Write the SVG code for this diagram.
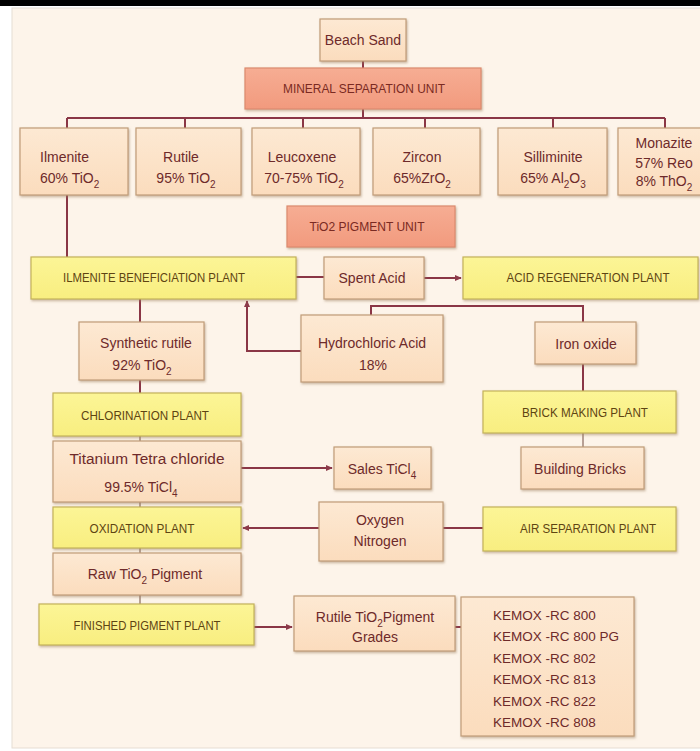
<svg xmlns="http://www.w3.org/2000/svg" width="700" height="751" viewBox="0 0 700 751">
<defs>
<linearGradient id="gp" x1="0" y1="0" x2="0" y2="1"><stop offset="0" stop-color="#fde9d3"/><stop offset="1" stop-color="#fbdcbd"/></linearGradient>
<linearGradient id="gs" x1="0" y1="0" x2="0" y2="1"><stop offset="0" stop-color="#f6ad93"/><stop offset="1" stop-color="#f29a7e"/></linearGradient>
<linearGradient id="gy" x1="0" y1="0" x2="0" y2="1"><stop offset="0" stop-color="#fcf596"/><stop offset="1" stop-color="#f8ee80"/></linearGradient>
<filter id="sh" x="-5%" y="-5%" width="110%" height="120%"><feDropShadow dx="1" dy="1.5" stdDeviation="0.8" flood-color="#9c8060" flood-opacity="0.55"/></filter>
<marker id="ar" viewBox="0 0 8 8" refX="7" refY="4" markerWidth="7" markerHeight="7" markerUnits="userSpaceOnUse" orient="auto"><path d="M0,0.5 L8,4 L0,7.5 Z" fill="#8c3a4a"/></marker>
</defs>
<style>
.pe{fill:url(#gp);stroke:#c09c78;stroke-width:1.2;filter:url(#sh)}
.ye{fill:url(#gy);stroke:#c4b25a;stroke-width:1.2;filter:url(#sh)}
.sa{fill:url(#gs);stroke:#dc8a6e;stroke-width:1.2;filter:url(#sh)}
text{font-family:"Liberation Sans",Arial,sans-serif;font-size:14px;fill:#6e2a2a;text-anchor:middle}
.ty{font-size:12.5px;fill:#5e4412}
.ts{font-size:12.5px;fill:#7a2a22}
.km{font-size:13.5px;text-anchor:start}
.c{stroke:#8a3646;stroke-width:2;fill:none}
.cs{stroke:#a08478;stroke-width:1.5;fill:none}
</style>
<rect x="0" y="0" width="700" height="751" fill="#ffffff"/>
<rect x="0" y="0" width="700" height="6" fill="#000000"/>
<rect x="12" y="8" width="690" height="740" fill="#fdf4ea" stroke="#e6ddd3" stroke-width="1"/>

<g id="connectors">
<path class="c" d="M363,61 V68"/>
<path class="c" d="M363,109 V118 M67,118 H665 M67,118 V128 M185,118 V128 M303,118 V128 M425,118 V128 M553,118 V128 M665,118 V128"/>
<path class="c" d="M67,195 V257"/>
<path class="c" d="M296,277 H324"/>
<path class="c" d="M424,278 H461" marker-end="url(#ar)"/>
<path class="c" d="M371,315 V306 H583 V322"/>
<path class="c" d="M301,351 H247 V301" marker-end="url(#ar)"/>
<path class="c" d="M583,364 V391"/>
<path class="cs" d="M583,433 V447"/>
<path class="c" d="M140,299 V322"/>
<path class="c" d="M140,380 V393"/>
<path class="cs" d="M140,436 V441 M140,502 V507 M140,548 V553 M140,595 V604"/>
<path class="c" d="M241,468 H332" marker-end="url(#ar)"/>
<path class="c" d="M319,528 H243" marker-end="url(#ar)"/>
<path class="c" d="M443,528 H483"/>
<path class="c" d="M254,627 H292" marker-end="url(#ar)"/>
<path class="c" d="M455,627 H461"/>
</g>

<g id="beach-sand"><rect class="pe" x="320" y="19" width="86" height="42"/><text x="363" y="45">Beach Sand</text></g>
<g id="mineral-separation-unit"><rect class="sa" x="245" y="68" width="236" height="41"/><text class="ts" x="364" y="93" textLength="162" lengthAdjust="spacingAndGlyphs">MINERAL SEPARATION UNIT</text></g>

<g id="ilmenite"><rect class="pe" x="20" y="128" width="108" height="67"/><text x="40" y="162" style="text-anchor:start">Ilmenite</text><text x="40" y="183" style="text-anchor:start">60% TiO<tspan font-size="10" dy="5">2</tspan></text></g>
<g id="rutile"><rect class="pe" x="136" y="128" width="105" height="67"/><text x="181" y="162">Rutile</text><text x="186" y="183">95% TiO<tspan font-size="10" dy="5">2</tspan></text></g>
<g id="leucoxene"><rect class="pe" x="252" y="128" width="108" height="67"/><text x="302" y="162">Leucoxene</text><text x="304" y="183">70-75% TiO<tspan font-size="10" dy="5">2</tspan></text></g>
<g id="zircon"><rect class="pe" x="373" y="128" width="107" height="67"/><text x="422" y="162">Zircon</text><text x="422" y="183">65%ZrO<tspan font-size="10" dy="5">2</tspan></text></g>
<g id="silliminite"><rect class="pe" x="498" y="128" width="109" height="67"/><text x="553" y="162">Silliminite</text><text x="553" y="183">65% Al<tspan font-size="10" dy="5">2</tspan><tspan dy="-5">O</tspan><tspan font-size="10" dy="5">3</tspan></text></g>
<g id="monazite"><rect class="pe" x="618" y="128" width="90" height="67"/><text x="664" y="148">Monazite</text><text x="664" y="168">57% Reo</text><text x="664" y="186">8% ThO<tspan font-size="10" dy="5">2</tspan></text></g>

<g id="tio2-pigment-unit"><rect class="sa" x="287" y="206" width="168" height="41"/><text class="ts" x="367" y="231" textLength="115" lengthAdjust="spacingAndGlyphs">TiO2 PIGMENT UNIT</text></g>

<g id="ilmenite-beneficiation-plant"><rect class="ye" x="31" y="257" width="265" height="42"/><text class="ty" x="154" y="282" textLength="182" lengthAdjust="spacingAndGlyphs">ILMENITE BENEFICIATION PLANT</text></g>
<g id="spent-acid"><rect class="pe" x="324" y="257" width="100" height="42"/><text x="372" y="283">Spent Acid</text></g>
<g id="acid-regeneration-plant"><rect class="ye" x="463" y="257" width="235" height="42"/><text class="ty" x="588" y="282" textLength="163" lengthAdjust="spacingAndGlyphs">ACID REGENERATION PLANT</text></g>

<g id="hydrochloric-acid"><rect class="pe" x="301" y="315" width="142" height="67"/><text x="372" y="348">Hydrochloric Acid</text><text x="373" y="370">18%</text></g>
<g id="iron-oxide"><rect class="pe" x="535" y="322" width="101" height="42"/><text x="586" y="349">Iron oxide</text></g>
<g id="synthetic-rutile"><rect class="pe" x="79" y="322" width="125" height="58"/><text x="146" y="348">Synthetic rutile</text><text x="142" y="370">92% TiO<tspan font-size="10" dy="5">2</tspan></text></g>

<g id="brick-making-plant"><rect class="ye" x="483" y="391" width="193" height="42"/><text class="ty" x="585" y="417" textLength="126" lengthAdjust="spacingAndGlyphs">BRICK MAKING PLANT</text></g>
<g id="chlorination-plant"><rect class="ye" x="53" y="393" width="188" height="43"/><text class="ty" x="145" y="420" textLength="128" lengthAdjust="spacingAndGlyphs">CHLORINATION PLANT</text></g>

<g id="titanium-tetra-chloride"><rect class="pe" x="53" y="441" width="188" height="61"/><text x="147" y="464" textLength="155" lengthAdjust="spacingAndGlyphs">Titanium  Tetra chloride</text><text x="141" y="492">99.5% TiCl<tspan font-size="10" dy="5">4</tspan></text></g>
<g id="sales-ticl4"><rect class="pe" x="334" y="447" width="97" height="42"/><text x="382" y="474">Sales TiCl<tspan font-size="10" dy="5">4</tspan></text></g>
<g id="building-bricks"><rect class="pe" x="521" y="447" width="123" height="42"/><text x="580" y="474">Building Bricks</text></g>

<g id="oxidation-plant"><rect class="ye" x="53" y="507" width="188" height="41"/><text class="ty" x="142" y="533" textLength="105" lengthAdjust="spacingAndGlyphs">OXIDATION PLANT</text></g>
<g id="oxygen-nitrogen"><rect class="pe" x="319" y="502" width="124" height="59"/><text x="380" y="525">Oxygen</text><text x="380" y="546">Nitrogen</text></g>
<g id="air-separation-plant"><rect class="ye" x="483" y="507" width="193" height="44"/><text class="ty" x="588" y="533" textLength="136" lengthAdjust="spacingAndGlyphs">AIR SEPARATION PLANT</text></g>

<g id="raw-tio2-pigment"><rect class="pe" x="53" y="553" width="188" height="42"/><text x="145" y="579">Raw TiO<tspan font-size="10" dy="5">2</tspan><tspan dy="-5"> Pigment</tspan></text></g>

<g id="finished-pigment-plant"><rect class="ye" x="39" y="604" width="215" height="41"/><text class="ty" x="147" y="630" textLength="147" lengthAdjust="spacingAndGlyphs">FINISHED PIGMENT PLANT</text></g>
<g id="rutile-tio2-pigment-grades"><rect class="pe" x="294" y="596" width="161" height="55"/><text x="375" y="622">Rutile  TiO<tspan font-size="10" dy="5">2</tspan><tspan dy="-5">Pigment</tspan></text><text x="375" y="642">Grades</text></g>

<g id="kemox-grades"><rect class="pe" x="461" y="597" width="173" height="139"/>
<text class="km" x="493" y="620">KEMOX -RC 800</text>
<text class="km" x="493" y="641">KEMOX -RC 800 PG</text>
<text class="km" x="493" y="663">KEMOX -RC 802</text>
<text class="km" x="493" y="684">KEMOX -RC 813</text>
<text class="km" x="493" y="706">KEMOX -RC 822</text>
<text class="km" x="493" y="727">KEMOX -RC 808</text>
</g>
</svg>
